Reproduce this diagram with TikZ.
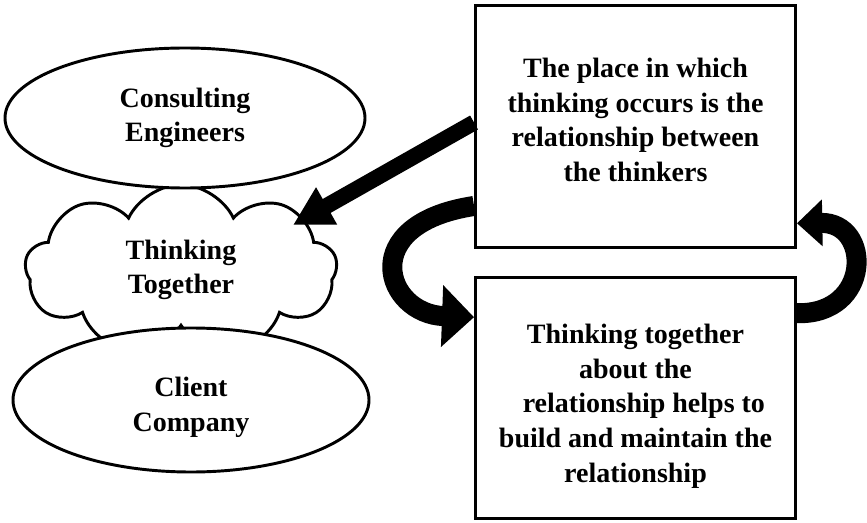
\documentclass[tikz,border=0pt]{standalone}
\usepackage{fontspec}
\setmainfont{Liberation Serif}
\usepackage{tikz}
\usetikzlibrary{shapes.geometric,shapes.symbols,arrows.meta}
\newcommand{\labelfont}{\bfseries\fontsize{21}{26}\selectfont}
\tikzset{>=latex,
    party/.style={ellipse,draw,fill=white,line width=2.2pt,inner sep=0pt,align=center,font=\labelfont},
    thought/.style={cloud,draw,line width=2.2pt,cloud puffs=9,cloud puff arc=130,aspect=1.7,inner sep=0pt,align=center,font=\labelfont},
    note/.style={rectangle,draw,line width=2.2pt,minimum width=240pt,minimum height=181pt,inner sep=0pt},
    notetext/.style={align=center,inner sep=0pt,font=\labelfont},
    bigarrow/.style={line width=#1,line cap=butt}
}

\begin{document}
\begin{tikzpicture}[x=0.75pt,y=0.75pt]
            \useasboundingbox (0,0) rectangle (867,522);
            \node[thought,minimum width=234pt,minimum height=128pt] (together) at (181,252) {Thinking\\Together};
            \node[party,minimum width=270pt,minimum height=105pt] (eng) at (185,404) {Consulting\\Engineers};
            \node[party,minimum width=267pt,minimum height=108pt] (client) at (191,122) {\rule{0pt}{26pt}Client\\Company};
            \node[note] (think) at (635.5,395.5) {};
            \node[note] (relate) at (635.5,124) {};
            \node[notetext] (thinktext) at ([yshift=5pt]think.center) {The place in which\\thinking occurs is the\\relationship between\\the thinkers};
            \node[notetext] (relatetext) at ([yshift=-6pt]relate.center) {Thinking together\\about the\\\hspace*{0.6em}relationship helps to\\build and maintain the\\relationship};
            \coordinate (cloudtip) at (293,297);
            \draw[bigarrow=12pt,-{Triangle[length=29pt,width=30pt]}] ([yshift=3pt]think.west) -- (cloudtip);
            \draw[bigarrow=15pt,-{Triangle[length=24pt,width=45pt]}] ([yshift=32pt]think.south west) .. controls (355,298) and (385,208) .. ([yshift=-31pt]relate.north west);
            \draw[bigarrow=15pt,-{Triangle[length=19pt,width=34pt]}] ([yshift=-28pt]relate.north east) .. controls (872,207) and (872,300) .. ([yshift=19pt]think.south east);
        \end{tikzpicture}
\end{document}
